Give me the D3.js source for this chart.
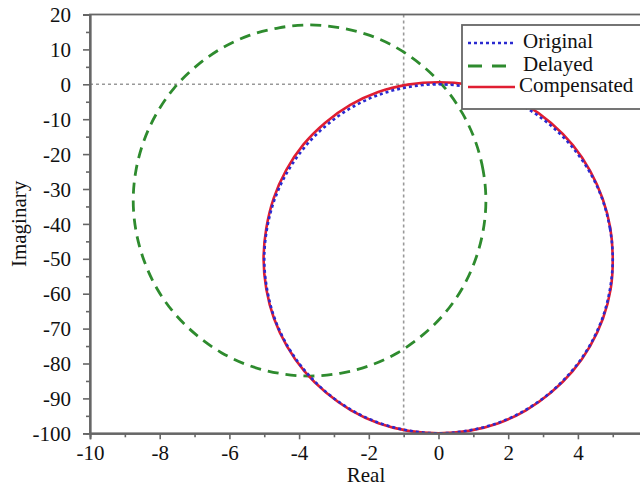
<!DOCTYPE html>
<html>
<head>
<meta charset="utf-8">
<script src="https://cdn.jsdelivr.net/npm/d3@7/dist/d3.min.js"></script>
<style>
  html, body { margin: 0; padding: 0; background: #fff; }
  svg { display: block; font-family: "Liberation Serif", "Times New Roman", serif; }
</style>
</head>
<body>
<svg id="chart" width="640" height="490"></svg>
<script>
// Nyquist loci: [real, imaginary] samples around each loop
const original = [
  [5.00, -50.0], [4.92, -41.3], [4.70, -32.9], [4.33, -25.0], [3.83, -17.9], [3.21, -11.7],
  [2.50, -6.7], [1.71, -3.0], [0.87, -0.8], [0.00, 0.0], [-0.87, -0.8], [-1.71, -3.0],
  [-2.50, -6.7], [-3.21, -11.7], [-3.83, -17.9], [-4.33, -25.0], [-4.70, -32.9], [-4.92, -41.3],
  [-5.00, -50.0], [-4.92, -58.7], [-4.70, -67.1], [-4.33, -75.0], [-3.83, -82.1], [-3.21, -88.3],
  [-2.50, -93.3], [-1.71, -97.0], [-0.87, -99.2], [0.00, -100.0], [0.87, -99.2], [1.71, -97.0],
  [2.50, -93.3], [3.21, -88.3], [3.83, -82.1], [4.33, -75.0], [4.70, -67.1], [4.92, -58.7]
];
const delayed = [
  [1.36, -33.3], [1.28, -24.6], [1.05, -16.1], [0.68, -8.2], [0.18, -1.0], [-0.45, 5.2],
  [-1.17, 10.3], [-1.97, 14.0], [-2.82, 16.2], [-3.70, 17.0], [-4.58, 16.2], [-5.43, 14.0],
  [-6.23, 10.3], [-6.95, 5.2], [-7.58, -1.0], [-8.08, -8.2], [-8.45, -16.1], [-8.68, -24.6],
  [-8.76, -33.3], [-8.68, -42.0], [-8.45, -50.5], [-8.08, -58.5], [-7.58, -65.6], [-6.95, -71.8],
  [-6.23, -76.9], [-5.43, -80.6], [-4.58, -82.8], [-3.70, -83.6], [-2.82, -82.8], [-1.97, -80.6],
  [-1.17, -76.9], [-0.45, -71.8], [0.18, -65.6], [0.68, -58.5], [1.05, -50.5], [1.28, -42.0]
];
const compensated = [
  [5.00, -50.0], [4.93, -41.2], [4.71, -32.8], [4.35, -24.8], [3.86, -17.5], [3.23, -11.1],
  [2.52, -6.0], [1.73, -2.3], [0.88, -0.1], [0.00, 0.6], [-0.88, -0.1], [-1.73, -2.2],
  [-2.53, -5.9], [-3.25, -11.0], [-3.88, -17.3], [-4.37, -24.6], [-4.73, -32.7], [-4.94, -41.2],
  [-5.02, -50.0], [-4.94, -58.7], [-4.72, -67.1], [-4.35, -75.0], [-3.85, -82.2], [-3.22, -88.4],
  [-2.51, -93.4], [-1.72, -97.1], [-0.87, -99.3], [0.00, -100.0], [0.87, -99.3], [1.72, -97.1],
  [2.51, -93.4], [3.22, -88.4], [3.85, -82.2], [4.35, -75.0], [4.72, -67.1], [4.94, -58.7]
];

const xTicks = [-10, -8, -6, -4, -2, 0, 2, 4, 6];
const xMinorTicks = [-9, -7, -5, -3, -1, 1, 3, 5];
const yTicks = [20, 10, 0, -10, -20, -30, -40, -50, -60, -70, -80, -90, -100];
const yMinorTicks = [15, 5, -5, -15, -25, -35, -45, -55, -65, -75, -85, -95];
const seriesNames = ["Original", "Delayed", "Compensated"];
const refPoint = [-1, 0];

const svg = d3.select("#chart");
const plotLeft = 90, plotRight = 647.6, plotTop = 14.5, plotBottom = 433.3;

const x = d3.scaleLinear().domain([-10, 6]).range([plotLeft, plotRight]);
const y = d3.scaleLinear().domain([-100, 20]).range([plotBottom, plotTop]);

const axisColor = "#666";
const fontSize = 21;
const plainNumber = d => String(d);   // ASCII hyphen for negatives

svg.append("defs").append("clipPath").attr("id", "plotClip")
  .append("rect").attr("x", plotLeft).attr("y", plotTop)
  .attr("width", plotRight - plotLeft).attr("height", plotBottom - plotTop);

// reference cross-hairs through -1 + j0
const refG = svg.append("g").attr("clip-path", "url(#plotClip)");
refG.append("line")
  .attr("x1", plotLeft).attr("x2", plotRight)
  .attr("y1", y(refPoint[1])).attr("y2", y(refPoint[1]))
  .attr("stroke", "#999").attr("stroke-width", 1.6).attr("stroke-dasharray", "3,3");
refG.append("line")
  .attr("x1", x(refPoint[0])).attr("x2", x(refPoint[0]))
  .attr("y1", plotTop).attr("y2", plotBottom)
  .attr("stroke", "#999").attr("stroke-width", 1.6).attr("stroke-dasharray", "3,3");

const line = d3.line()
  .x(d => x(d[0])).y(d => y(d[1]))
  .curve(d3.curveCatmullRomClosed.alpha(0.5));

const styles = {
  Original: { color: "#2a2ad0", width: 2.6, dash: "3,3" },
  Delayed: { color: "#2e8b2e", width: 2.8, dash: "11,7" },
  Compensated: { color: "#e01e32", width: 2.6, dash: null }
};

const plotG = svg.append("g").attr("clip-path", "url(#plotClip)");
const drawOrder = [["Delayed", delayed], ["Compensated", compensated], ["Original", original]];
drawOrder.forEach(([name, data]) => {
  const s = styles[name];
  plotG.append("path")
    .datum(data)
    .attr("d", line)
    .attr("fill", "none")
    .attr("stroke", s.color)
    .attr("stroke-width", s.width)
    .attr("stroke-dasharray", s.dash);
});

// frame
svg.append("rect")
  .attr("x", plotLeft).attr("y", plotTop)
  .attr("width", plotRight - plotLeft).attr("height", plotBottom - plotTop)
  .attr("fill", "none").attr("stroke", axisColor).attr("stroke-width", 1.8);

// axes
const xAxis = svg.append("g").attr("transform", `translate(0,${plotBottom})`)
  .call(d3.axisBottom(x).tickValues(xTicks).tickSize(6).tickPadding(6).tickFormat(plainNumber));
const xMinor = svg.append("g").attr("transform", `translate(0,${plotBottom})`)
  .call(d3.axisBottom(x).tickValues(xMinorTicks).tickSize(4).tickFormat(""));
const yAxis = svg.append("g").attr("transform", `translate(${plotLeft},0)`)
  .call(d3.axisLeft(y).tickValues(yTicks).tickSize(7).tickPadding(12).tickFormat(plainNumber));
const yMinor = svg.append("g").attr("transform", `translate(${plotLeft},0)`)
  .call(d3.axisLeft(y).tickValues(yMinorTicks).tickSize(4).tickFormat(""));

[xAxis, xMinor, yAxis, yMinor].forEach(g => {
  g.select(".domain").attr("stroke", axisColor).attr("stroke-width", 1.8);
  g.selectAll(".tick line").attr("stroke", axisColor).attr("stroke-width", 1.6);
  g.selectAll(".tick text")
    .attr("fill", "#111")
    .style("font-family", "'Liberation Serif', 'Times New Roman', serif")
    .style("font-size", fontSize + "px");
});
yAxis.selectAll(".tick text").attr("dy", "0.34em");
xAxis.selectAll(".tick text").attr("dy", "0.7em");

// axis titles
svg.append("text")
  .attr("x", 366).attr("y", 482)
  .attr("text-anchor", "middle")
  .style("font-size", fontSize + "px").attr("fill", "#111")
  .text("Real");
svg.append("text")
  .attr("transform", `translate(26,${(plotTop + plotBottom) / 2}) rotate(-90)`)
  .attr("text-anchor", "middle")
  .style("font-size", fontSize + "px").attr("fill", "#111")
  .text("Imaginary");

// legend
const legend = svg.append("g");
legend.append("rect")
  .attr("x", 462).attr("y", 25).attr("width", 200).attr("height", 84)
  .attr("fill", "#fff").attr("stroke", axisColor).attr("stroke-width", 1.8);
const legendRows = [43, 66, 87];
const legendTextX = [523, 523, 519];
seriesNames.forEach((name, i) => {
  const s = styles[name];
  legend.append("line")
    .attr("x1", 468).attr("x2", 515)
    .attr("y1", legendRows[i]).attr("y2", legendRows[i])
    .attr("stroke", s.color).attr("stroke-width", s.width)
    .attr("stroke-dasharray", name === "Delayed" ? "14,10" : s.dash);
  legend.append("text")
    .attr("x", legendTextX[i]).attr("y", legendRows[i] + 5)
    .style("font-size", "21px").attr("fill", "#111")
    .text(name);
});
</script>
</body>
</html>
